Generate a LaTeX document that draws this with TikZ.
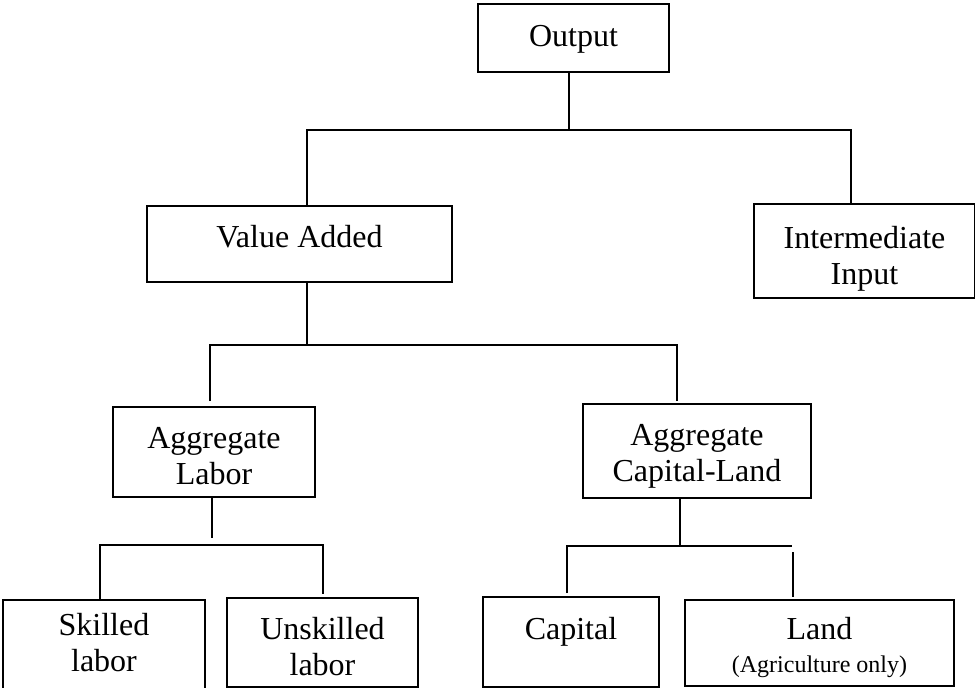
\documentclass[tikz,border=0pt]{standalone}
\usepackage{fontspec}
\setmainfont{Liberation Serif}
\newcommand\bigsz{\fontsize{32}{36}\selectfont}
\newcommand\smallsz{\fontsize{24}{27}\selectfont}
% move a stacked label down by #1 without changing its box
\newcommand\mv[2]{\raisebox{-#1}[\height][\depth]{\begin{tabular}{@{}c@{}}#2\end{tabular}}}
\begin{document}
\begin{tikzpicture}[x=1pt,y=1pt,
  box/.style={draw, line width=1.6pt, inner sep=0pt, font=\bigsz},
  conn/.style={line width=1.6pt}]
\useasboundingbox[fill=white] (0,0) rectangle (975,-688);
% boxes
\node[box, minimum width=191pt, minimum height=68pt] (out) at (573.5,-38) {\mv{1pt}{Output}};
\node[box, minimum width=305pt, minimum height=76pt] (va) at (299.5,-244) {\mv{-4pt}{Value Added}};
\node[box, minimum width=221pt, minimum height=94pt] (ii) at (864.5,-251) {\mv{8pt}{Intermediate\\Input}};
\node[box, minimum width=202pt, minimum height=90pt] (al) at (214,-452) {\mv{7pt}{Aggregate\\Labor}};
\node[box, minimum width=228pt, minimum height=94pt] (cl) at (697,-451) {\mv{5pt}{Aggregate\\Capital-Land}};
\node[box, minimum width=202pt, minimum height=92pt] (sk) at (104,-646) {\mv{0pt}{Skilled\\labor}};
\node[box, minimum width=191pt, minimum height=89pt] (us) at (322.5,-642.5) {\mv{8pt}{Unskilled\\labor}};
\node[box, minimum width=176pt, minimum height=90pt] (cap) at (571,-642) {\mv{8pt}{Capital\\\mbox{}}};
\node[box, minimum width=269pt, minimum height=86pt] (land) at (819.5,-643) {\mv{6pt}{Land\\[-3pt]{\smallsz (Agriculture only)}}};
% junction coordinates
\coordinate (o1) at (569,-130);
\coordinate (b1L) at (307,-130);
\coordinate (b1R) at (851,-130);
\coordinate (v1) at (307,-345);
\coordinate (b2L) at (210,-345);
\coordinate (b2R) at (677,-345);
\coordinate (e2L) at (210,-401);
\coordinate (e2R) at (677,-401);
\coordinate (a1) at (212,-538);
\coordinate (b3L) at (100,-545);
\coordinate (b3R) at (323,-545);
\coordinate (e3R) at (323,-594);
\coordinate (c1) at (680,-546);
\coordinate (b4L) at (567,-546);
\coordinate (b4R) at (792,-546);
\coordinate (e4L) at (567,-593);
\coordinate (s4R) at (793,-552);
\coordinate (e4R) at (793,-597);
% connectors
\draw[conn] (out.south -| o1) -- (o1);
\draw[conn] (va.north -| b1L) -- (b1L) -- (b1R) -- (ii.north -| b1R);
\draw[conn] (va.south -| v1) -- (v1);
\draw[conn] (e2L) -- (b2L) -- (b2R) -- (e2R);
\draw[conn] (al.south -| a1) -- (a1);
\draw[conn] (sk.north -| b3L) -- (b3L) -- (b3R) -- (e3R);
\draw[conn] (cl.south -| c1) -- (c1);
\draw[conn] (e4L) -- (b4L) -- (b4R);
\draw[conn] (s4R) -- (e4R);
\end{tikzpicture}
\end{document}
